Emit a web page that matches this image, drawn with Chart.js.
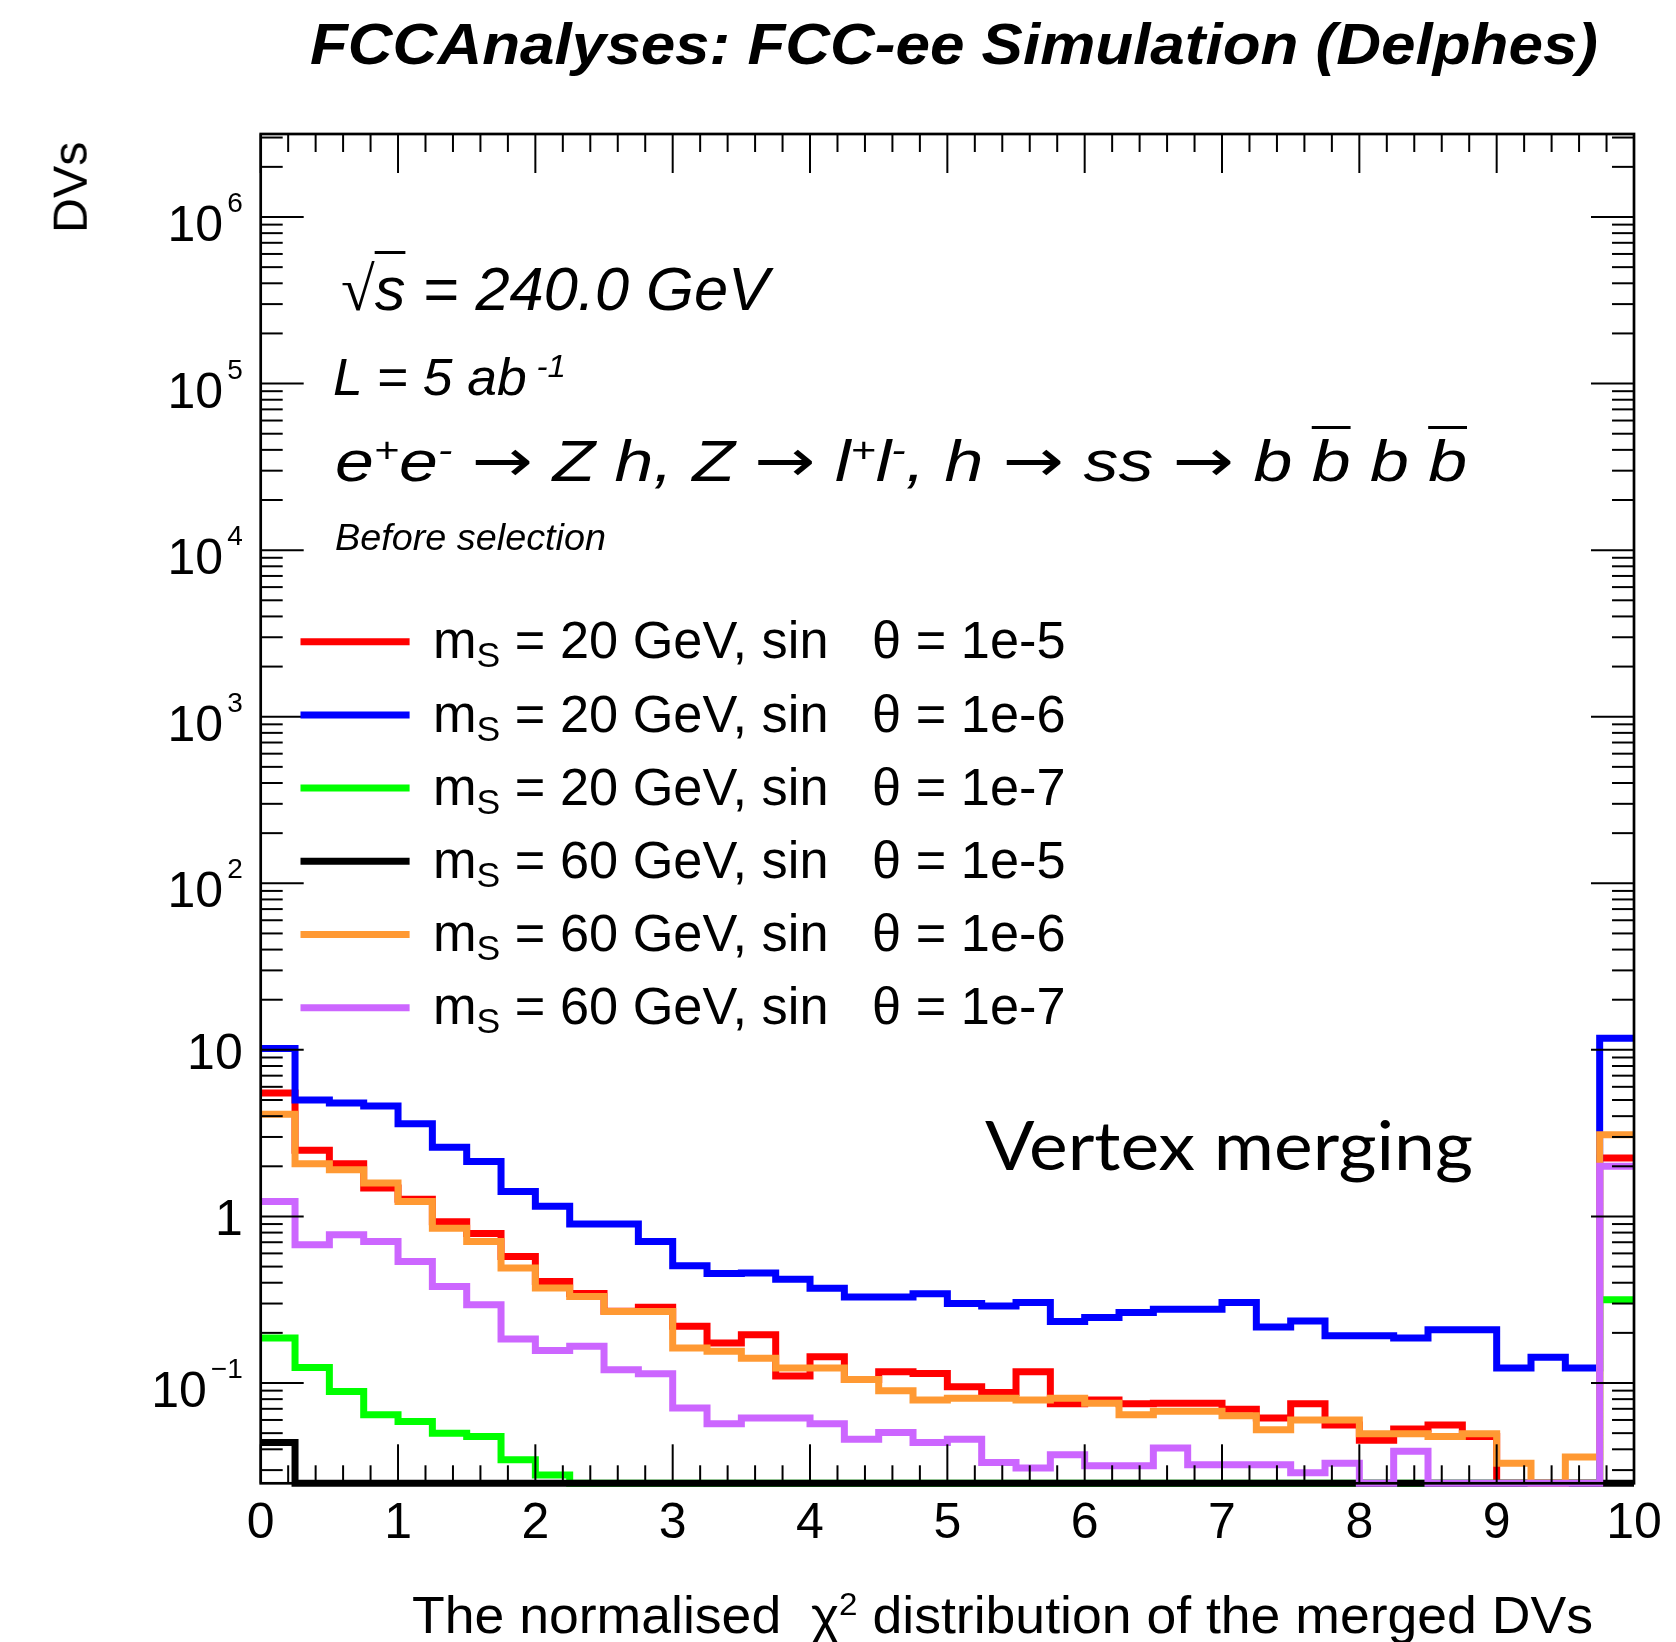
<!DOCTYPE html>
<html><head><meta charset="utf-8">
<script src="https://cdn.jsdelivr.net/npm/chart.js@4/dist/chart.umd.min.js"></script>
<style>
html,body{margin:0;padding:0;background:#fff;}
#wrap{position:relative;width:1676px;height:1642px;overflow:hidden;background:#fff;}
#c{position:absolute;left:0;top:0;}
.t{position:absolute;left:0;top:0;white-space:nowrap;font-family:"Liberation Sans",Arial,Helvetica,sans-serif;color:#000;line-height:1;transform-origin:0 0;}
.it{font-style:italic;}
.sub{font-size:0.68em;vertical-align:-0.27em;}
.sup{font-size:0.62em;vertical-align:0.55em;}
.up{font-style:normal;}
.arr{font-style:normal;font-family:"DejaVu Sans",sans-serif;font-size:1.05em;}
.ob{text-decoration:overline;text-decoration-thickness:3px;}
.ov{border-top:3px solid #000;}
</style></head>
<body>
<div id="wrap">
<canvas id="c" width="1676" height="1642"></canvas>
<div class="t it" id="title" style="font-weight:bold;font-size:58px;">FCCAnalyses: FCC-ee Simulation (Delphes)</div>
<div class="t" id="ytitle" style="font-size:48px;">DVs</div>
<div class="t" id="xtitle" style="font-size:52px;">The normalised&nbsp;&nbsp;<span>χ</span><span class="sup">2</span> distribution of the merged DVs</div>
<div class="t it" id="sqrts" style="font-size:62px;"><span class="up" style="font-family:'DejaVu Sans';font-weight:200;">√</span><span class="ov">s</span> = 240.0 GeV</div>
<div class="t it" id="lumi" style="font-size:52px;">L = 5 ab<span class="sup" style="margin-left:0.3em;">-1</span></div>
<div class="t it" id="proc" style="font-size:57px;">e<span class="sup">+</span>e<span class="sup">-</span> <span class="arr">→</span> Z h, Z <span class="arr">→</span> l<span class="sup">+</span>l<span class="sup">-</span>, h <span class="arr">→</span> ss <span class="arr">→</span> b <span class="ob">b</span> b <span class="ob">b</span></div>
<div class="t it" id="sel" style="font-size:37px;">Before selection</div>
<div class="t" id="vm" style="font-family:Lato,'Open Sans',sans-serif;font-size:67px;">Vertex merging</div>
</div>
<script>
// ---------------- data ----------------
const BIN_EDGES = [0,0.25,0.5,0.75,1,1.25,1.5,1.75,2,2.25,2.5,2.75,3,3.25,3.5,3.75,4,4.25,4.5,4.75,5,5.25,5.5,5.75,6,6.25,6.5,6.75,7,7.25,7.5,7.75,8,8.25,8.5,8.75,9,9.25,9.5,9.75,10];
const MASSES = ['20','20','20','60','60','60'];
const MIXINGS = ['1e-5','1e-6','1e-7','1e-5','1e-6','1e-7'];

const RED_20_1E5 = [5.5,2.5,2.07,1.48,1.27,0.93,0.79,0.575,0.407,0.345,0.27,0.285,0.219,0.174,0.195,0.11,0.144,0.105,0.117,0.114,0.095,0.0877,0.117,0.075,0.079,0.075,0.0755,0.0755,0.0697,0.0617,0.075,0.056,0.0453,0.053,0.056,0.0478,0,0,0,2.24];
const BLUE_20_1E6 = [10.2,5.0,4.8,4.6,3.6,2.6,2.14,1.41,1.15,0.90,0.90,0.707,0.506,0.455,0.457,0.42,0.37,0.328,0.328,0.343,0.30,0.29,0.304,0.234,0.247,0.265,0.277,0.277,0.304,0.217,0.236,0.192,0.192,0.186,0.209,0.209,0.123,0.143,0.123,11.75];
const GREEN_20_1E7 = [0.186,0.124,0.089,0.0645,0.0588,0.05,0.0478,0.0346,0.028,0,0,0,0,0,0,0,0,0,0,0,0,0,0,0,0,0,0,0,0,0,0,0,0,0,0,0,0,0,0,0.316];
const BLACK_60_1E5 = [0.044,0,0,0,0,0,0,0,0,0,0,0,0,0,0,0,0,0,0,0,0,0,0,0,0,0,0,0,0,0,0,0,0,0,0,0,0,0,0,0];
const ORANGE_60_1E6 = [4.1,2.07,1.905,1.59,1.23,0.85,0.707,0.49,0.372,0.331,0.269,0.269,0.162,0.155,0.141,0.123,0.123,0.105,0.09,0.079,0.081,0.081,0.079,0.081,0.0755,0.0645,0.0677,0.0677,0.0635,0.0525,0.06,0.06,0.0496,0.0496,0.0478,0.0496,0.033,0,0.0359,3.09];
const PURPLE_60_1E7 = [1.23,0.676,0.776,0.707,0.537,0.38,0.295,0.184,0.157,0.166,0.12,0.1136,0.0708,0.057,0.0617,0.0617,0.057,0.046,0.0505,0.044,0.046,0.0333,0.0309,0.0371,0.0319,0.0319,0.0407,0.0323,0.0323,0.0323,0.0289,0.033,0,0.039,0,0,0,0,0,2.0];

const X_TICKS = [0,1,2,3,4,5,6,7,8,9,10];
const X_TICK_LABELS = ['0','1','2','3','4','5','6','7','8','9','10'];
const Y_TICKS = [0.1,1,10,100,1000,10000,100000,1000000];
const Y_TICK_LABELS = [['10','\u22121'],['1',''],['10',''],['10','2'],['10','3'],['10','4'],['10','5'],['10','6']];
const Y_MIN = 0.025, Y_MAX = 3.15e6;
const X_MIN = 0, X_MAX = 10;
// --------------------------------------

const SERIES = [RED_20_1E5, BLUE_20_1E6, GREEN_20_1E7, BLACK_60_1E5, ORANGE_60_1E6, PURPLE_60_1E7];
const COLORS = ['#ff0000','#0000ff','#00ff00','#000000','#ff9933','#cc66ff'];

function histPoints(vals){
  return BIN_EDGES.map((e,i)=>({x:e, y: Math.max(vals[Math.min(i, vals.length-1)], Y_MIN)}));
}

const datasets = SERIES.map((vals,i)=>({
  label: 'm_S = '+MASSES[i]+' GeV, sin θ = '+MIXINGS[i],
  data: histPoints(vals),
  borderColor: COLORS[i],
  backgroundColor: COLORS[i],
  borderWidth: 7,
  stepped: 'before',
  pointRadius: 0,
  fill: false,
  clip: false,
  tension: 0,
  borderJoinStyle: 'miter',
  borderCapStyle: 'butt',
  order: SERIES.length-1-i
}));

const LEG_BASELINES = [658.3,731.5,804.7,877.9,951.1,1024.3];

const framePlugin = {
  id:'frame',
  afterDatasetsDraw(chart){
    const {ctx, chartArea:a, scales:{x,y}} = chart;
    ctx.save();
    ctx.strokeStyle='#000';
    ctx.lineWidth=2;
    const ln=(x1,y1,x2,y2)=>{ctx.beginPath();ctx.moveTo(x1,y1);ctx.lineTo(x2,y2);ctx.stroke();};
    for(let d=-2; d<=6; d++){
      for(let k=1;k<=9;k++){
        const v=k*Math.pow(10,d);
        if(v<Y_MIN||v>Y_MAX) continue;
        const py=y.getPixelForValue(v);
        const len = k===1?43:22;
        ln(a.left,py,a.left+len,py);
        ln(a.right,py,a.right-len,py);
      }
    }
    for(let i=0;i<=50;i++){
      const v=X_MIN+i*0.2;
      const px=x.getPixelForValue(v);
      const len = i%5===0?39:18;
      ln(px,a.bottom,px,a.bottom-len);
      ln(px,a.top,px,a.top+len);
    }
    ctx.lineWidth=2.7;
    ctx.strokeRect(a.left,a.top,a.right-a.left,a.bottom-a.top);
    ctx.fillStyle='#000';
    ctx.textBaseline='alphabetic';
    ctx.textAlign='center';
    ctx.font='50px "Liberation Sans", Arial, sans-serif';
    X_TICKS.forEach((v,i)=>{ ctx.fillText(X_TICK_LABELS[i], x.getPixelForValue(v), a.bottom+55); });
    ctx.textAlign='right';
    Y_TICKS.forEach((v,i)=>{
      const py=y.getPixelForValue(v);
      const [base,exp]=Y_TICK_LABELS[i];
      const R=a.left-18;
      if(exp){
        ctx.font='28px "Liberation Sans", Arial, sans-serif';
        const ew=ctx.measureText(exp).width;
        ctx.fillText(exp,R,py-5);
        ctx.font='50px "Liberation Sans", Arial, sans-serif';
        ctx.fillText(base,R-ew-4,py+24);
      } else {
        ctx.font='50px "Liberation Sans", Arial, sans-serif';
        ctx.fillText(base,R,py+19);
      }
    });
    ctx.lineWidth=7;
    chart.data.datasets.forEach((ds,i)=>{
      ctx.strokeStyle=ds.borderColor;
      const yy=LEG_BASELINES[i]-16.6;
      ln(300.5,yy,409.6,yy);
    });
    ctx.restore();
  }
};

new Chart(document.getElementById('c'),{
  type:'line',
  data:{datasets},
  options:{
    responsive:false,
    animation:false,
    devicePixelRatio:1,
    layout:{padding:{left:260.7,right:42,top:134,bottom:158.7}},
    plugins:{legend:{display:false},tooltip:{enabled:false},title:{display:false}},
    scales:{
      x:{type:'linear',min:X_MIN,max:X_MAX,display:false},
      y:{type:'logarithmic',min:Y_MIN,max:Y_MAX,display:false}
    }
  },
  plugins:[framePlugin]
});

const wrap=document.getElementById('wrap');
function measure(el){
  const m=document.createElement('span');
  m.style.cssText='display:inline-block;width:0;height:0;vertical-align:baseline;';
  el.appendChild(m);
  const b=m.getBoundingClientRect().top-el.getBoundingClientRect().top;
  el.removeChild(m);
  const w=el.getBoundingClientRect().width;
  return {b,w};
}
function place(id,o){
  const el=document.getElementById(id);
  const {b,w}=measure(el);
  const s=o.width? o.width/w : 1;
  const left=(o.left!==undefined)? o.left : o.right-w*s;
  el.style.left=left+'px';
  el.style.top=(o.baseline-b)+'px';
  el.style.transform='scaleX('+s+')';
}
SERIES.forEach((v,i)=>{
  const d=document.createElement('div');
  d.className='t'; d.id='leg'+i; d.style.fontSize='51px';
  d.innerHTML='m<span class="sub">S</span> = '+MASSES[i]+' GeV, sin&nbsp;&nbsp;&nbsp;θ = '+MIXINGS[i];
  wrap.appendChild(d);
  place('leg'+i,{left:432.5,baseline:LEG_BASELINES[i],width:632.5});
});
place('title',{left:310,baseline:64,width:1288});
place('xtitle',{right:1592.7,baseline:1633,width:1181});
place('sqrts',{left:341,baseline:310,width:428});
place('lumi',{left:333,baseline:395,width:233});
place('proc',{left:334.6,baseline:481,width:1132});
place('sel',{left:334.6,baseline:550,width:271});
place('vm',{left:985,baseline:1170,width:488});
(function(){
  const el=document.getElementById('ytitle');
  const {b,w}=measure(el);
  const s=91.3/w;
  el.style.transform='translate('+(86.7-b)+'px,233px) rotate(-90deg) scaleX('+s+')';
})();
</script>
</body></html>
